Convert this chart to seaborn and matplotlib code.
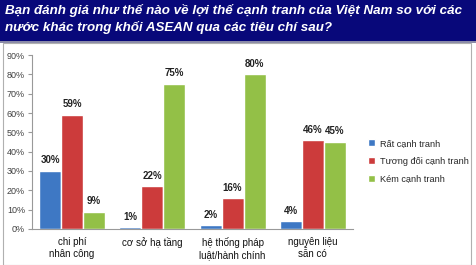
import matplotlib
matplotlib.use("Agg")
import matplotlib.pyplot as plt
import seaborn as sns
import pandas as pd
from matplotlib.patches import Rectangle

categories = ["chi phí\nnhân công", "cơ sở hạ tầng", "hệ thống pháp\nluật/hành chính", "nguyên liệu\nsẵn có"]
series = ["Rất cạnh tranh", "Tương đối cạnh tranh", "Kém cạnh tranh"]
rat = [30, 1, 2, 4]
tuong_doi = [59, 22, 16, 46]
kem = [9, 75, 80, 45]
yticks = [0, 10, 20, 30, 40, 50, 60, 70, 80, 90]
title = "Bạn đánh giá như thế nào về lợi thế cạnh tranh của Việt Nam so với các\nnước khác trong khối ASEAN qua các tiêu chí sau?"

rows = []
for s, vals in zip(series, [rat, tuong_doi, kem]):
    for c, v in zip(categories, vals):
        rows.append({"cat": c, "series": s, "val": v})
df = pd.DataFrame(rows)

sns.set_style("white")
plt.rcParams["font.family"] = ["Liberation Sans", "DejaVu Sans"]

fig = plt.figure(figsize=(4.77, 2.65), dpi=100)
fig.patch.set_facecolor("white")

# title band
fig.add_artist(Rectangle((0, 1 - 41 / 265), 1, 41 / 265, transform=fig.transFigure,
                         facecolor="#08087A", edgecolor="none", zorder=0))
fig.add_artist(Rectangle((0, 1 - 43 / 265), 1, 2 / 265, transform=fig.transFigure,
                         facecolor="#8A8AA8", edgecolor="none", zorder=0))
# frame border
fig.add_artist(Rectangle((3 / 477, 0), 468 / 477, 1 - 43 / 265, transform=fig.transFigure,
                         facecolor="none", edgecolor="#B0B0B0", linewidth=0.8, zorder=0))
fig.text(5 / 477, 1 - 4 / 265, title, color="white", fontsize=9.6, fontweight="bold",
         fontstyle="italic", va="top", ha="left", linespacing=1.4)

ax = fig.add_axes([32 / 477, 1 - 229 / 265, (353 - 32) / 477, (229 - 55) / 265])
colors = ["#3E78C4", "#CC3B3B", "#93C047"]
sns.barplot(data=df, x="cat", y="val", hue="series", order=categories, hue_order=series,
            palette=colors, width=0.82, ax=ax, saturation=1, legend=True)

for cont in ax.containers:
    ax.bar_label(cont, labels=[f"{int(v.get_height())}%" for v in cont], padding=4,
                 fontsize=7, fontweight="bold", color="#222222")

ax.set_ylim(0, 90)
ax.set_xlim(-0.5, 3.5)
ax.set_yticks(yticks)
ax.set_yticklabels([f"{t}%" for t in yticks], fontsize=6.5, color="#404040")
ax.set_xticks(range(len(categories)))
ax.set_xticklabels(categories, fontsize=7, color="#111111")
ax.set_xticks([-0.5, 0.5, 1.5, 2.5, 3.5], minor=True)
ax.tick_params(axis="x", which="major", length=0, pad=6)
ax.tick_params(axis="x", which="minor", length=4, color="#999999", width=0.8)
ax.tick_params(axis="y", which="major", length=3, color="#999999", width=0.8, left=True, pad=2)
ax.set_xlabel("")
ax.set_ylabel("")
for sp in ["top", "right"]:
    ax.spines[sp].set_visible(False)
for sp in ["left", "bottom"]:
    ax.spines[sp].set_color("#999999")
    ax.spines[sp].set_linewidth(0.8)

leg = ax.legend(loc="center left", bbox_to_anchor=(1.02, 0.39), frameon=False, fontsize=6.6,
                handlelength=0.75, handleheight=0.75, handletextpad=0.6, labelspacing=0.95)

fig.savefig("out.png", dpi=100)
